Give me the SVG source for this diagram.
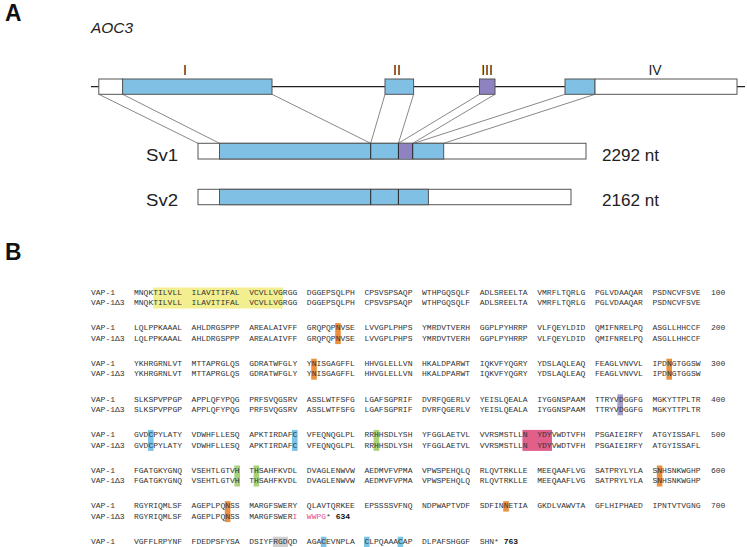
<svg xmlns="http://www.w3.org/2000/svg" width="747" height="547" viewBox="0 0 747 547">
<style>
.lbl{font-family:"Liberation Sans",Arial,sans-serif;fill:#222}
.big{font-family:"Liberation Sans",Arial,sans-serif;font-weight:bold;font-size:23px;fill:#111}
.box{stroke:#555;stroke-width:1}
.ex{fill:#7fc0e4}
.ex3{fill:#8f82c0}
.utr{fill:#fff}
.div{stroke:#222;stroke-width:1}
.conn{stroke:#555;stroke-width:0.7;fill:none}
.seq{font-family:"Liberation Mono","Courier New",monospace;font-size:8px;fill:#333;white-space:pre}
.num{font-family:"Liberation Mono","Courier New",monospace;font-size:8px;fill:#333}
.b{font-weight:bold;fill:#111}
.pk{fill:#e5508f}
.hy{fill:#f3ef90}
.ho{fill:#e9913f}
.hb{fill:#7cc3e6}
.hg{fill:#a9d37a}
.hp{fill:#a49ccb}
.hr{fill:#e0608a}
.hq{fill:#cfcfcf}
</style>

<!-- Panel A -->
<text class="big" x="5" y="20.5" textLength="16.5" lengthAdjust="spacingAndGlyphs">A</text>
<text class="lbl" x="91" y="33.3" font-size="14" font-style="italic" textLength="42" lengthAdjust="spacingAndGlyphs">AOC3</text>

<g id="gene-line">
<line x1="91" y1="86.7" x2="745" y2="86.7" stroke="#222" stroke-width="1.2"/>
</g>

<g id="connectors">
<line class="conn" x1="98.8" y1="94.3" x2="198" y2="143.3"/>
<line class="conn" x1="122.6" y1="94.3" x2="219.5" y2="143.3"/>
<line class="conn" x1="272" y1="94.3" x2="370.7" y2="143.3"/>
<line class="conn" x1="385" y1="94.3" x2="370.7" y2="143.3"/>
<line class="conn" x1="413.6" y1="94.3" x2="398.4" y2="143.3"/>
<line class="conn" x1="479.5" y1="94.3" x2="398.4" y2="143.3"/>
<line class="conn" x1="495" y1="94.3" x2="412.7" y2="143.3"/>
<line class="conn" x1="565" y1="94.3" x2="414" y2="143.3"/>
<line class="conn" x1="595" y1="94.3" x2="443.7" y2="143.3"/>
</g>

<g id="exon-I">
<rect class="box utr" x="98.8" y="79" width="23.8" height="15.3"/>
<rect class="box ex" x="122.6" y="79" width="149.4" height="15.3"/>
<text class="lbl" x="185" y="75" font-size="14" text-anchor="middle">I</text>
</g>
<g id="exon-II">
<rect class="box ex" x="385" y="79" width="28.6" height="15.3"/>
<text class="lbl" x="397" y="75" font-size="14" text-anchor="middle">II</text>
</g>
<g id="exon-III">
<rect class="box ex3" x="479.5" y="79" width="15.5" height="15.3"/>
<text class="lbl" x="487" y="75" font-size="14" text-anchor="middle">III</text>
</g>
<g id="exon-IV">
<rect class="box ex" x="565" y="79" width="30" height="15.3"/>
<rect class="box utr" x="595" y="79" width="142" height="15.3"/>
<text class="lbl" x="655" y="75" font-size="14" text-anchor="middle">IV</text>
</g>

<g id="sv1">
<rect class="box utr" x="198" y="143.3" width="388" height="15.7"/>
<rect class="box ex" x="219.5" y="143.3" width="224.2" height="15.7"/>
<rect class="ex3" x="398.4" y="143.8" width="14.3" height="14.7"/>
<line class="div" x1="370.7" y1="143.3" x2="370.7" y2="159"/>
<line class="div" x1="398.4" y1="143.3" x2="398.4" y2="159"/>
<line class="div" x1="412.7" y1="143.3" x2="412.7" y2="159"/>
<text class="lbl" x="146" y="160.5" font-size="16" textLength="32" lengthAdjust="spacingAndGlyphs">Sv1</text>
<text class="lbl" x="602" y="160.5" font-size="16" textLength="57" lengthAdjust="spacingAndGlyphs">2292 nt</text>
</g>

<g id="sv2">
<rect class="box utr" x="198" y="189.3" width="373" height="15.4"/>
<rect class="box ex" x="219.5" y="189.3" width="208.9" height="15.4"/>
<line class="div" x1="370.7" y1="189.3" x2="370.7" y2="204.7"/>
<line class="div" x1="398.4" y1="189.3" x2="398.4" y2="204.7"/>
<text class="lbl" x="146" y="206" font-size="16" textLength="32" lengthAdjust="spacingAndGlyphs">Sv2</text>
<text class="lbl" x="602" y="206" font-size="16" textLength="57" lengthAdjust="spacingAndGlyphs">2162 nt</text>
</g>

<!-- Panel B -->
<text class="big" x="5" y="260" textLength="16.5" lengthAdjust="spacingAndGlyphs">B</text>

<g id="highlights">
<rect class="hy" x="153.2" y="287.5" width="129.6" height="21"/>
<rect class="ho" x="335.2" y="323.1" width="5.6" height="21"/>
<rect class="ho" x="311.2" y="358.7" width="5.6" height="21"/>
<rect class="ho" x="666.4" y="358.7" width="5.6" height="21"/>
<rect class="hp" x="617.4" y="394.3" width="5.6" height="21"/>
<rect class="hb" x="148" y="429.9" width="5.6" height="21"/>
<rect class="hb" x="292" y="429.9" width="5.6" height="21"/>
<rect class="hg" x="373.6" y="429.9" width="5.6" height="21"/>
<rect class="hr" x="522.4" y="429.9" width="29.6" height="21"/>
<rect class="hg" x="234.4" y="465.5" width="5.6" height="21"/>
<rect class="hg" x="253.6" y="465.5" width="5.6" height="21"/>
<rect class="ho" x="656.8" y="465.5" width="5.6" height="21"/>
<rect class="ho" x="224.8" y="501.1" width="5.6" height="21"/>
<rect class="ho" x="503.2" y="501.1" width="5.6" height="10.5"/>
<rect class="hq" x="272.8" y="536.7" width="15.2" height="10.5"/>
<rect class="hb" x="320.8" y="536.7" width="5.6" height="10.5"/>
<rect class="hb" x="364" y="536.7" width="5.6" height="10.5"/>
<rect class="hb" x="397.6" y="536.7" width="5.6" height="10.5"/>
</g>

<g id="alignment">
<text class="seq" x="91" y="294.8">VAP-1</text>
<text class="seq" x="91" y="305.2">VAP-1Δ3</text>
<text class="seq" x="134" y="294.8" xml:space="preserve">MNQKTILVLL  ILAVITIFAL  VCVLLVGRGG  DGGEPSQLPH  CPSVSPSAQP  WTHPGQSQLF  ADLSREELTA  VMRFLTQRLG  PGLVDAAQAR  PSDNCVFSVE</text>
<text class="seq" x="134" y="305.2" xml:space="preserve">MNQKTILVLL  ILAVITIFAL  VCVLLVGRGG  DGGEPSQLPH  CPSVSPSAQP  WTHPGQSQLF  ADLSREELTA  VMRFLTQRLG  PGLVDAAQAR  PSDNCVFSVE</text>
<text class="num" x="711" y="294.8">100</text>

<text class="seq" x="91" y="330.4">VAP-1</text>
<text class="seq" x="91" y="340.8">VAP-1Δ3</text>
<text class="seq" x="134" y="330.4" xml:space="preserve">LQLPPKAAAL  AHLDRGSPPP  AREALAIVFF  GRQPQPNVSE  LVVGPLPHPS  YMRDVTVERH  GGPLPYHRRP  VLFQEYLDID  QMIFNRELPQ  ASGLLHHCCF</text>
<text class="seq" x="134" y="340.8" xml:space="preserve">LQLPPKAAAL  AHLDRGSPPP  AREALAIVFF  GRQPQPNVSE  LVVGPLPHPS  YMRDVTVERH  GGPLPYHRRP  VLFQEYLDID  QMIFNRELPQ  ASGLLHHCCF</text>
<text class="num" x="711" y="330.4">200</text>

<text class="seq" x="91" y="366">VAP-1</text>
<text class="seq" x="91" y="376.4">VAP-1Δ3</text>
<text class="seq" x="134" y="366" xml:space="preserve">YKHRGRNLVT  MTTAPRGLQS  GDRATWFGLY  YNISGAGFFL  HHVGLELLVN  HKALDPARWT  IQKVFYQGRY  YDSLAQLEAQ  FEAGLVNVVL  IPDNGTGGSW</text>
<text class="seq" x="134" y="376.4" xml:space="preserve">YKHRGRNLVT  MTTAPRGLQS  GDRATWFGLY  YNISGAGFFL  HHVGLELLVN  HKALDPARWT  IQKVFYQGRY  YDSLAQLEAQ  FEAGLVNVVL  IPDNGTGGSW</text>
<text class="num" x="711" y="366">300</text>

<text class="seq" x="91" y="401.6">VAP-1</text>
<text class="seq" x="91" y="412">VAP-1Δ3</text>
<text class="seq" x="134" y="401.6" xml:space="preserve">SLKSPVPPGP  APPLQFYPQG  PRFSVQGSRV  ASSLWTFSFG  LGAFSGPRIF  DVRFQGERLV  YEISLQEALA  IYGGNSPAAM  TTRYVDGGFG  MGKYTTPLTR</text>
<text class="seq" x="134" y="412" xml:space="preserve">SLKSPVPPGP  APPLQFYPQG  PRFSVQGSRV  ASSLWTFSFG  LGAFSGPRIF  DVRFQGERLV  YEISLQEALA  IYGGNSPAAM  TTRYVDGGFG  MGKYTTPLTR</text>
<text class="num" x="711" y="401.6">400</text>

<text class="seq" x="91" y="437.2">VAP-1</text>
<text class="seq" x="91" y="447.6">VAP-1Δ3</text>
<text class="seq" x="134" y="437.2" xml:space="preserve">GVDCPYLATY  VDWHFLLESQ  APKTIRDAFC  VFEQNQGLPL  RRHHSDLYSH  YFGGLAETVL  VVRSMSTLLN  YDYVWDTVFH  PSGAIEIRFY  ATGYISSAFL</text>
<text class="seq" x="134" y="447.6" xml:space="preserve">GVDCPYLATY  VDWHFLLESQ  APKTIRDAFC  VFEQNQGLPL  RRHHSDLYSH  YFGGLAETVL  VVRSMSTLLN  YDYVWDTVFH  PSGAIEIRFY  ATGYISSAFL</text>
<text class="num" x="711" y="437.2">500</text>

<text class="seq" x="91" y="472.8">VAP-1</text>
<text class="seq" x="91" y="483.2">VAP-1Δ3</text>
<text class="seq" x="134" y="472.8" xml:space="preserve">FGATGKYGNQ  VSEHTLGTVH  THSAHFKVDL  DVAGLENWVW  AEDMVFVPMA  VPWSPEHQLQ  RLQVTRKLLE  MEEQAAFLVG  SATPRYLYLA  SNHSNKWGHP</text>
<text class="seq" x="134" y="483.2" xml:space="preserve">FGATGKYGNQ  VSEHTLGTVH  THSAHFKVDL  DVAGLENWVW  AEDMVFVPMA  VPWSPEHQLQ  RLQVTRKLLE  MEEQAAFLVG  SATPRYLYLA  SNHSNKWGHP</text>
<text class="num" x="711" y="472.8">600</text>

<text class="seq" x="91" y="508.4">VAP-1</text>
<text class="seq" x="91" y="518.8">VAP-1Δ3</text>
<text class="seq" x="134" y="508.4" xml:space="preserve">RGYRIQMLSF  AGEPLPQNSS  MARGFSWERY  QLAVTQRKEE  EPSSSSVFNQ  NDPWAPTVDF  SDFINNETIA  GKDLVAWVTA  GFLHIPHAED  IPNTVTVGNG</text>
<text class="seq" x="134" y="518.8" xml:space="preserve">RGYRIQMLSF  AGEPLPQNSS  MARGFSWER<tspan class="pk">I</tspan>  <tspan class="pk">WWPG</tspan>* <tspan class="b">634</tspan></text>
<text class="num" x="711" y="508.4">700</text>

<text class="seq" x="91" y="544">VAP-1</text>
<text class="seq" x="134" y="544" xml:space="preserve">VGFFLRPYNF  FDEDPSFYSA  DSIYFRGDQD  AGACEVNPLA  CLPQAAACAP  DLPAFSHGGF  SHN* <tspan class="b">763</tspan></text>
</g>
</svg>
